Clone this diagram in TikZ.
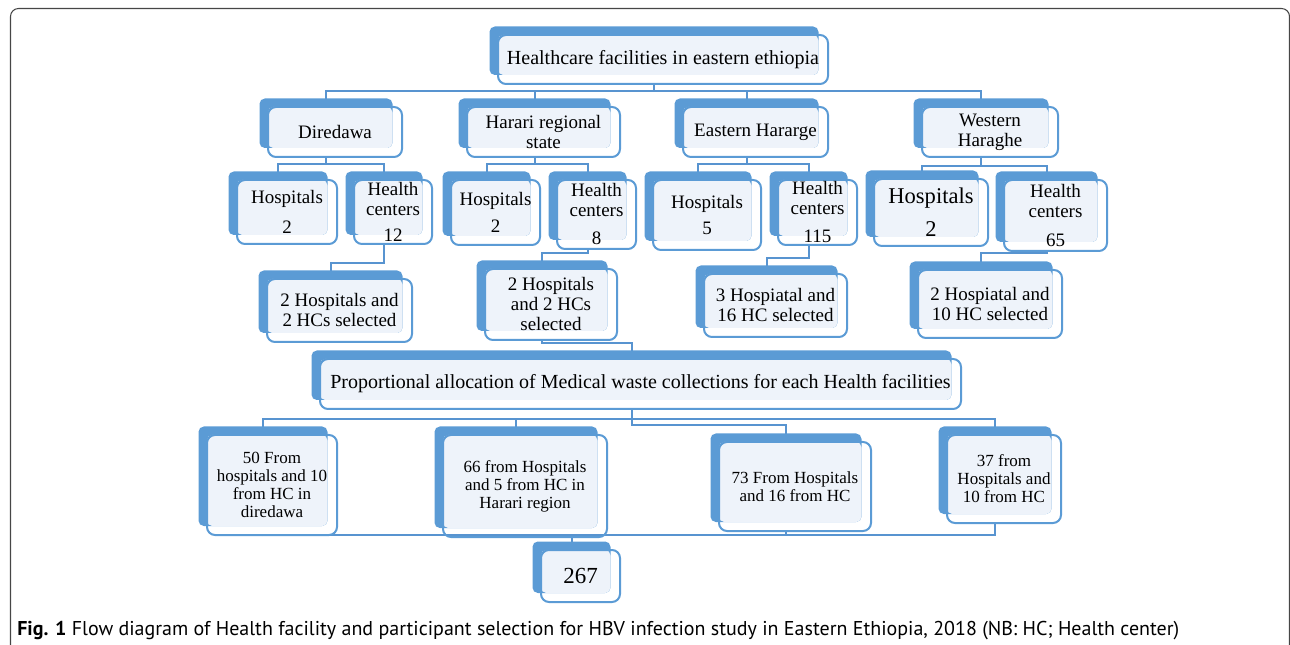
\documentclass[tikz,border=0pt]{standalone}
\usepackage{fontspec}
\setmainfont{Liberation Serif}
\newfontfamily\capfont{PT Sans}
\usepackage{tikz}
\usetikzlibrary{calc}

\definecolor{cardblue}{RGB}{91,155,213}
\definecolor{cardlight}{RGB}{238,243,250}
\definecolor{linkblue}{RGB}{88,148,208}
\definecolor{framegray}{RGB}{70,70,70}

\pgfdeclarelayer{wires}
\pgfdeclarelayer{cards}
\pgfsetlayers{wires,cards,main}

\tikzset{
  card/.style={draw=cardblue, line width=1.5pt, rounded corners=6pt, inner sep=0pt,
    align=center, font=\fontsize{14.25}{15}\selectfont},
  small/.style={font=\fontsize{12.75}{13.5}\selectfont},
  sz/.style 2 args={minimum width=#1*.75pt, minimum height=#2*.75pt},
  link/.style={draw=linkblue, line width=1.5pt, transform canvas={xshift=-6.75pt}},
}

\begin{document}
\begin{tikzpicture}[x=.75pt, y=-.75pt]
  \useasboundingbox (0,0) rectangle (1290,645);
  \draw[framegray, line width=.8pt, rounded corners=6pt] (10.5,8.5) rectangle (1289.5,670);

  % levels of the tree
  \node[card, sz={330}{49}, font=\fontsize{15}{15}\selectfont] (top) at (663,59.5) {Healthcare facilities in eastern ethiopia};
  \node[card, sz={134}{50}] (dire) at (335,132) {Diredawa};
  \node[card, sz={153}{50}] (harari) at (543.5,132) {Harari regional\\state};
  \node[card, sz={145}{50}] (east) at (755.5,132) {Eastern Hararge};
  \node[card, sz={136}{50}] (west) at (990,132) {Western\\Haraghe};

  \node[card, sz={100}{64}] (dhosp) at (287,212) {Hospitals\\[7.5pt]2};
  \node[card, sz={78}{64}] (dhc) at (393,212) {Health\\centers\\[5pt]12};
  \node[card, sz={89}{65}] (hhosp) at (495.5,212.5) {Hospitals\\[5pt]2};
  \node[card, sz={79}{69}] (hhc) at (596.5,214.5) {Health\\centers\\[6pt]8};
  \node[card, sz={108}{70}] (ehosp) at (707,215) {Hospitals\\[5pt]5};
  \node[card, sz={79}{65}] (ehc) at (817.5,212.5) {Health\\centers\\[6pt]115};
  \node[card, sz={114}{67}, font=\fontsize{16.9}{18}\selectfont] (whosp) at (931,212.5) {Hospitals\\[6.75pt]2};
  \node[card, sz={103}{71}] (whc) at (1055.5,215.5) {Health\\centers\\[7pt]65};

  \node[card, sz={145}{63}] (dsel) at (339.5,310.5) {2 Hospitals and\\2 HCs selected};
  \node[card, sz={132}{71}] (hsel) at (551,304.5) {2 Hospitals\\and 2 HCs\\selected};
  \node[card, sz={143}{63}] (esel) at (775.5,305.5) {3 Hospiatal and\\16 HC selected};
  \node[card, sz={144}{68}] (wsel) at (990,304) {2 Hospiatal and\\10 HC selected};

  \node[card, sz={641}{50}, font=\fontsize{15}{15}\selectfont] (prop) at (640.5,384) {Proportional allocation of Medical waste collections for each Health facilities};

  \node[card, small, sz={130}{100}] (dtot) at (272,485) {50 From\\hospitals and 10\\from HC in\\diredawa};
  \node[card, small, sz={164}{102}] (htot) at (525,486) {66 from Hospitals\\and 5 from HC in\\Harari region};
  \node[card, small, sz={152}{89}] (etot) at (795,486.5) {73 From Hospitals\\and 16 from HC};
  \node[card, small, sz={114}{88}] (wtot) at (1004,479) {37 from\\Hospitals and\\10 from HC};
  \node[card, sz={79}{52}, font=\fontsize{17.25}{18}\selectfont] (total) at (580.5,576) {267};

  % blue backs and light faces
  \begin{pgfonlayer}{cards}
    \foreach \nd in {top,dire,harari,east,west,dhosp,dhc,hhosp,hhc,ehosp,ehc,whosp,whc,
                     dsel,hsel,esel,wsel,prop,dtot,htot,etot,wtot,total} {
      \fill[cardblue, rounded corners=4pt] ([shift={(-7.5,-7.5)}]\nd.north west) rectangle ([shift={(-10.5,-10)}]\nd.south east);
      \fill[cardlight, rounded corners=4pt] ([shift={(1,1)}]\nd.north west) rectangle ([shift={(-10.5,-10)}]\nd.south east);
    }
  \end{pgfonlayer}

  % connectors
  \coordinate (b1) at (0,91);
  \coordinate (b2) at (0,164);
  \coordinate (b2w) at (0,166);
  \coordinate (b3d) at (0,263);
  \coordinate (b3h) at (0,253);
  \coordinate (b3e) at (0,258);
  \coordinate (b3w) at (0,253);
  \coordinate (b4) at (0,343);
  \coordinate (b5) at (0,419);
  \coordinate (b5e) at (0,425);
  \coordinate (b6) at (0,535);
  \begin{pgfonlayer}{wires}
    \foreach \c in {dire,harari,east,west}
      \draw[link] (top) -- (top |- b1) -| (\c);
    \foreach \a/\c in {dire/dhosp,dire/dhc,harari/hhosp,harari/hhc,east/ehosp,east/ehc}
      \draw[link] (\a) -- (\a |- b2) -| (\c);
    \foreach \c in {whosp,whc}
      \draw[link] (west) -- (west |- b2w) -| (\c);
    \draw[link] (dhc) -- (dhc |- b3d) -| (dsel);
    \draw[link] (hhc) -- (hhc |- b3h) -| (hsel);
    \draw[link] (ehc) -- (ehc |- b3e) -| (esel);
    \draw[link] (whc) -- (whc |- b3w) -| (wsel);
    \draw[link] (hsel) -- (hsel |- b4) -| (prop);
    \foreach \c in {dtot,htot,wtot}
      \draw[link] (prop) -- (prop |- b5) -| (\c);
    \draw[link] (prop) -- (prop |- b5e) -| (etot);
    \foreach \c in {dtot,htot,etot,wtot}
      \draw[link] (\c) -- (\c |- b6) -| (total);
  \end{pgfonlayer}

  \node[anchor=west, inner sep=0pt, font=\capfont\fontsize{15}{16}\selectfont] (cap) at (17,631)
    {\textbf{Fig. 1} Flow diagram of Health facility and participant selection for HBV infection study in Eastern Ethiopia, 2018 (NB: HC; Health center)};
\end{tikzpicture}
\end{document}
